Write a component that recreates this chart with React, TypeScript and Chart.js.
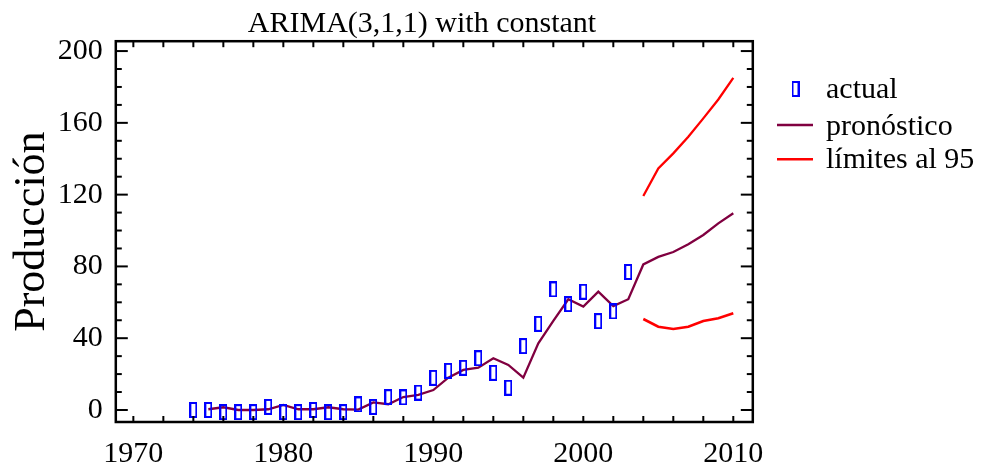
import React, { useEffect, useRef } from 'react';
import { Chart, registerables } from 'chart.js';

Chart.register(...registerables);

// ---- data ----
const actualYears = [
  1974, 1975, 1976, 1977, 1978, 1979, 1980, 1981, 1982, 1983,
  1984, 1985, 1986, 1987, 1988, 1989, 1990, 1991, 1992, 1993,
  1994, 1995, 1996, 1997, 1998, 1999, 2000, 2001, 2002, 2003,
];
const actualValues = [
  0, 0, -1.2, -1.2, -1.2, 1.7, -1.2, -1.2, 0, -1.2,
  -1.2, 3.1, 1.7, 7.1, 7.0, 9.7, 17.9, 21.8, 23.5, 28.8,
  20.7, 12.4, 35.6, 48.0, 67.2, 59.0, 65.9, 49.5, 54.9, 76.9,
];
const forecastYears = [
  1975, 1976, 1977, 1978, 1979, 1980, 1981, 1982, 1983, 1984,
  1985, 1986, 1987, 1988, 1989, 1990, 1991, 1992, 1993, 1994,
  1995, 1996, 1997, 1998, 1999, 2000, 2001, 2002, 2003, 2004,
  2005, 2006, 2007, 2008, 2009, 2010,
];
const forecastValues = [
  0.4, 1.5, 0, 0, 0.4, 2.8, 0.4, 0.4, 1.5, 0.4,
  0.2, 4.2, 3.2, 7.2, 8.4, 11.1, 18.0, 22.3, 23.6, 28.8,
  25.1, 18.0, 37.1, 49.6, 61.7, 57.6, 65.9, 57.9, 61.7, 81.1,
  85.3, 88.0, 92.3, 97.5, 104.0, 109.6,
];
const limitYears = [2004, 2005, 2006, 2007, 2008, 2009, 2010];
const upperLimits = [119.2, 134.6, 143.0, 152.3, 162.5, 173.0, 185.1];
const lowerLimits = [50.7, 46.4, 45.1, 46.4, 49.6, 51.1, 53.9];

const xTickLabels = [1970, 1980, 1990, 2000, 2010];
const yTickLabels = [0, 40, 80, 120, 160, 200];
const titleText = 'ARIMA(3,1,1) with constant';
const yAxisTitle = 'Producción';
const legendLabels = ['actual', 'pronóstico', 'límites al 95'];

const FONT = '"Liberation Serif", "Times New Roman", Times, serif';
const BLUE = '#0000ff';
const MAROON = '#800040';
const RED = '#ff0000';

function makeMarker(): HTMLCanvasElement {
  const c = document.createElement('canvas');
  c.width = 8;
  c.height = 16;
  const g = c.getContext('2d')!;
  g.strokeStyle = BLUE;
  g.lineWidth = 2;
  g.strokeRect(1, 1, 6, 14);
  return c;
}

export default function App() {
  const ref = useRef<HTMLCanvasElement | null>(null);

  useEffect(() => {
    if (!ref.current) return;
    const marker = makeMarker();

    const decorPlugin = {
      id: 'decor',
      afterDraw(chart: any) {
        const { ctx, chartArea: a, scales } = chart;
        const xs = scales.x;
        const ys = scales.y;
        ctx.save();
        ctx.strokeStyle = '#000';
        ctx.lineWidth = 2;
        const seg = (x1: number, y1: number, x2: number, y2: number) => {
          ctx.beginPath();
          ctx.moveTo(x1, y1);
          ctx.lineTo(x2, y2);
          ctx.stroke();
        };
        for (let yr = 1970; yr <= 2010; yr += 2) {
          const px = xs.getPixelForValue(yr);
          seg(px, a.bottom, px, a.bottom - 6);
          seg(px, a.top, px, a.top + 6);
        }
        for (let v = 0; v <= 200; v += 10) {
          const py = ys.getPixelForValue(v);
          const len = v % 40 === 0 ? 12 : 6;
          seg(a.left, py, a.left + len, py);
          seg(a.right, py, a.right - len, py);
        }
        ctx.lineWidth = 2.5;
        ctx.strokeRect(a.left, a.top, a.right - a.left, a.bottom - a.top);

        // title
        ctx.fillStyle = '#000';
        ctx.font = `30px ${FONT}`;
        ctx.textAlign = 'center';
        ctx.textBaseline = 'alphabetic';
        ctx.fillText(titleText, 422, 32);

        // legend
        ctx.textAlign = 'left';
        ctx.drawImage(marker, 795.5 - 4, 89 - 8);
        ctx.fillText(legendLabels[0], 826, 97.7);
        ctx.lineWidth = 2.5;
        ctx.strokeStyle = MAROON;
        seg(777, 125, 813, 125);
        ctx.fillText(legendLabels[1], 826, 135);
        ctx.strokeStyle = RED;
        seg(777, 159.3, 813, 159.3);
        ctx.fillText(legendLabels[2], 826, 168);
        ctx.restore();
      },
    };

    const chart = new Chart(ref.current, {
      type: 'line',
      data: {
        datasets: [
          {
            label: legendLabels[0],
            data: actualYears.map((x, i) => ({ x, y: actualValues[i] })),
            showLine: false,
            pointStyle: marker as any,
            pointRadius: 5,
            borderColor: BLUE,
            backgroundColor: BLUE,
          },
          {
            label: legendLabels[1],
            data: forecastYears.map((x, i) => ({ x, y: forecastValues[i] })),
            borderColor: MAROON,
            borderWidth: 2.3,
            pointRadius: 0,
            tension: 0,
          },
          {
            label: legendLabels[2],
            data: limitYears.map((x, i) => ({ x, y: upperLimits[i] })),
            borderColor: RED,
            borderWidth: 2.3,
            pointRadius: 0,
            tension: 0,
          },
          {
            label: legendLabels[2] + ' inf',
            data: limitYears.map((x, i) => ({ x, y: lowerLimits[i] })),
            borderColor: RED,
            borderWidth: 2.6,
            pointRadius: 0,
            tension: 0,
          },
        ],
      },
      options: {
        animation: false,
        responsive: false,
        layout: { padding: { top: 41.2, right: 235.2, left: 0, bottom: 0 } },
        plugins: {
          legend: { display: false },
          title: { display: false },
          tooltip: { enabled: false },
        },
        scales: {
          x: {
            type: 'linear',
            min: 1968.83,
            max: 2011.3,
            grid: { display: false, drawTicks: false },
            border: { display: false },
            afterBuildTicks: (axis: any) => {
              axis.ticks = xTickLabels.map((v) => ({ value: v }));
            },
            afterFit: (axis: any) => {
              axis.height = 42;
            },
            ticks: {
              font: { family: FONT, size: 30 },
              color: '#000',
              padding: 14,
              maxRotation: 0,
              autoSkip: false,
              callback: (v: any) => String(v),
            },
          },
          y: {
            type: 'linear',
            min: -6.7,
            max: 205.5,
            grid: { display: false, drawTicks: false },
            border: { display: false },
            afterBuildTicks: (axis: any) => {
              axis.ticks = yTickLabels.map((v) => ({ value: v }));
            },
            afterFit: (axis: any) => {
              axis.width = 115.8;
            },
            ticks: {
              font: { family: FONT, size: 30 },
              color: '#000',
              padding: 13,
              autoSkip: false,
              callback: (v: any) => String(v),
            },
            title: {
              display: true,
              text: yAxisTitle,
              color: '#000',
              font: { family: FONT, size: 44 },
              padding: { top: 6, bottom: 0 },
            },
          },
        },
      } as any,
      plugins: [decorPlugin],
    });

    return () => chart.destroy();
  }, []);

  return (
    <div style={{ position: 'fixed', left: 0, top: 0, width: 988, height: 464, background: '#fff' }}>
      <canvas ref={ref} width={988} height={464} />
    </div>
  );
}
